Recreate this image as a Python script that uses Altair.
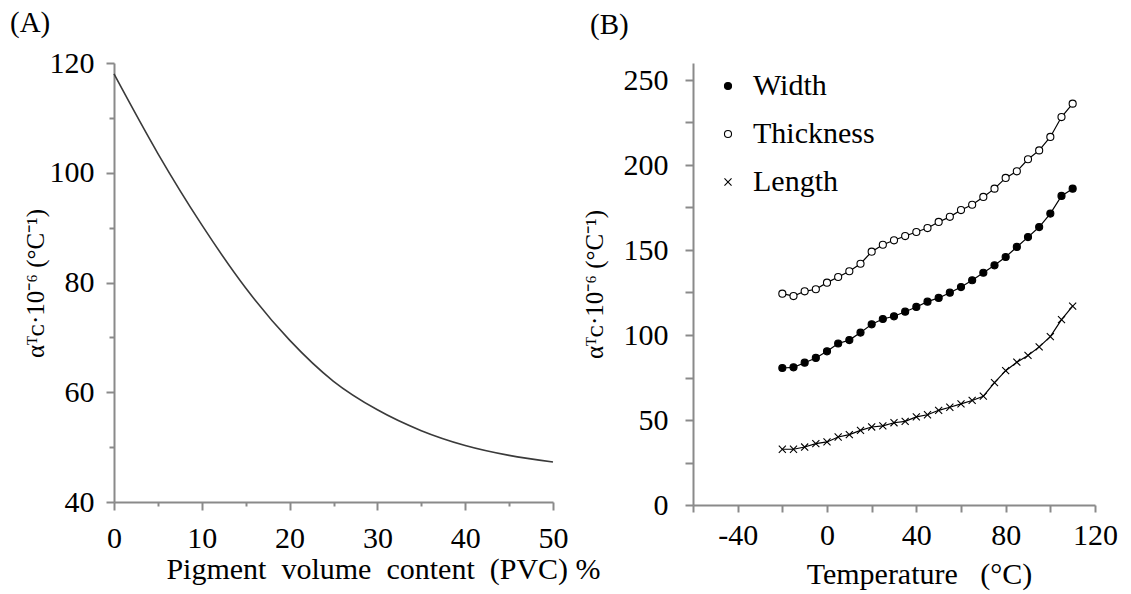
import altair as alt
import pandas as pd

# ---------------- data ----------------
# Panel A
pvc = [0, 5, 10, 15, 20, 25, 30, 35, 40, 45, 50]
alpha_pvc = [118.0, 103.5, 90.5, 79.0, 69.5, 62.0, 56.8, 53.0, 50.3, 48.5, 47.3]

# Panel B
temps = [-20, -15, -10, -5, 0, 5, 10, 15, 20, 25, 30, 35, 40, 45, 50, 55,
         60, 65, 70, 75, 80, 85, 90, 95, 100, 105, 110]
width_vals = [80.6, 81.0, 83.7, 86.5, 90.4, 95.0, 97.0, 101.4, 106.3, 109.4,
              111.0, 113.7, 116.5, 119.6, 121.8, 124.9, 128.2, 132.2, 136.6,
              141.0, 145.9, 151.8, 157.6, 163.5, 171.4, 181.8, 186.1]
thickness_vals = [124.3, 122.9, 125.7, 126.9, 130.8, 134.1, 137.5, 141.9, 149.0,
                  153.1, 155.7, 158.2, 160.6, 162.9, 166.5, 169.5, 173.5, 176.6,
                  181.2, 186.1, 192.4, 196.3, 203.4, 208.6, 216.5, 228.2, 236.1]
length_vals = [32.8, 32.8, 34.1, 36.1, 37.1, 40.0, 41.4, 43.9, 45.9, 46.5, 48.4,
               49.2, 51.8, 53.1, 55.7, 57.5, 59.5, 61.5, 64.0, 72.0, 79.0, 84.0,
               88.0, 93.0, 99.0, 109.0, 117.0]
series_names = ["Width", "Thickness", "Length"]

xA_ticks = [0, 5, 10, 15, 20, 25, 30, 35, 40, 45, 50]
yA_ticks = [40, 50, 60, 70, 80, 90, 100, 110, 120]
xB_ticks = [-60, -40, -20, 0, 20, 40, 60, 80, 100, 120]
yB_ticks = [0, 25, 50, 75, 100, 125, 150, 175, 200, 225, 250]

ytitle = "α\u1d40\u1d04·10\u207b\u2076 (°C\u207b\u00b9)"
NB = " \u00a0"

FONT = "Liberation Serif"
AX = "#8a8a8a"

dfA = pd.DataFrame({"pvc": pvc, "alpha": alpha_pvc})
rows = []
for name, vals in zip(series_names, [width_vals, thickness_vals, length_vals]):
    for t, v in zip(temps, vals):
        rows.append({"temp": t, "alpha": v, "series": name})
dfB = pd.DataFrame(rows)

# ---------------- panel A ----------------
xA = alt.X("pvc:Q", scale=alt.Scale(domain=[0, 50], nice=False),
           axis=alt.Axis(values=xA_ticks,
                         labelExpr="datum.value % 10 === 0 ? datum.label : ''",
                         tickSize={"condition": {"test": "datum.value % 10 === 0", "value": 8}, "value": 4},
                         labelPadding=13, labelFlush=False,
                         title=f"Pigment{NB}volume{NB}content{NB}(PVC) %",
                         titleX=269, titleY=52, titleAlign="center", titleBaseline="top"))
yA = alt.Y("alpha:Q", scale=alt.Scale(domain=[40, 120], nice=False, zero=False),
           axis=alt.Axis(values=yA_ticks,
                         labelExpr="datum.value % 20 === 0 ? datum.label : ''",
                         tickSize={"condition": {"test": "datum.value % 20 === 0", "value": 8}, "value": 5},
                         labelPadding=12, labelFlush=False,
                         title=ytitle, titleFontSize=25,
                         titleX=-66, titleY=220, titleAlign="center", titleBaseline="bottom"))

chartA = alt.Chart(dfA).mark_line(color="#3a3a3a", strokeWidth=1.6, interpolate="monotone").encode(
    x=xA, y=yA
).properties(width=439, height=439,
             title=alt.TitleParams("(A)", anchor="start", frame="group", dx=-104, offset=10,
                                   fontSize=29, font=FONT, fontWeight="normal", color="black"))

# ---------------- panel B ----------------
xB = alt.X("temp:Q", scale=alt.Scale(domain=[-60, 120], nice=False),
           axis=alt.Axis(values=xB_ticks,
                         labelExpr="datum.value % 40 === 0 ? replace(datum.label, '\u2212', '-') : ''",
                         tickSize=7, labelPadding=8, labelFlush=False,
                         title=f"Temperature{NB}\u00a0(°C)",
                         titleX=226, titleY=54, titleAlign="center", titleBaseline="top"))
yB = alt.Y("alpha:Q", scale=alt.Scale(domain=[0, 260], nice=False),
           axis=alt.Axis(values=yB_ticks,
                         labelExpr="datum.value % 50 === 0 ? datum.label : ''",
                         tickSize=8, labelPadding=17, labelFlush=False,
                         title=ytitle, titleFontSize=25,
                         titleX=-86, titleY=221, titleAlign="center", titleBaseline="bottom"))

leg = alt.Legend(title=None, orient="none", legendX=20, legendY=8,
                 labelFont=FONT, labelFontSize=30, labelColor="black",
                 labelOffset=10, rowPadding=18, symbolSize=50,
                 symbolStrokeColor="black", symbolStrokeWidth=1.1, padding=0)

lines = alt.Chart(dfB).mark_line(color="black", strokeWidth=1.2).encode(
    x=xB, y=yB, detail="series:N"
)
pts = alt.Chart(dfB).mark_point(strokeWidth=1.1, size=50, opacity=1).encode(
    x=xB, y=yB,
    shape=alt.Shape("series:N",
                    scale=alt.Scale(domain=series_names,
                                    range=["circle", "circle", "M-1,-1L1,1M-1,1L1,-1"]),
                    legend=leg),
    fill=alt.Fill("series:N",
                  scale=alt.Scale(domain=series_names, range=["black", "white", "white"]),
                  legend=leg),
    stroke=alt.Stroke("series:N",
                      scale=alt.Scale(domain=series_names, range=["black", "black", "black"]),
                      legend=leg),
)
chartB = alt.layer(lines, pts).properties(
    width=402, height=442,
    title=alt.TitleParams("(B)", anchor="start", frame="group", dx=-103, offset=23,
                          fontSize=29, font=FONT, fontWeight="normal", color="black"))

chart = alt.hconcat(chartA, chartB, spacing=140, bounds="flush").resolve_legend(
    shape="independent", fill="independent", stroke="independent"
).properties(
    padding={"left": 10, "top": 9, "right": 5, "bottom": 5}
).configure_view(stroke=None).configure_axis(
    grid=False, domainColor=AX, domainWidth=2, tickColor=AX, tickWidth=2,
    labelFont=FONT, labelFontSize=30, labelColor="black",
    titleFont=FONT, titleFontSize=30, titleFontWeight="normal", titleColor="black"
)

chart.save("out.html", embed_options={"renderer": "svg", "actions": False})
